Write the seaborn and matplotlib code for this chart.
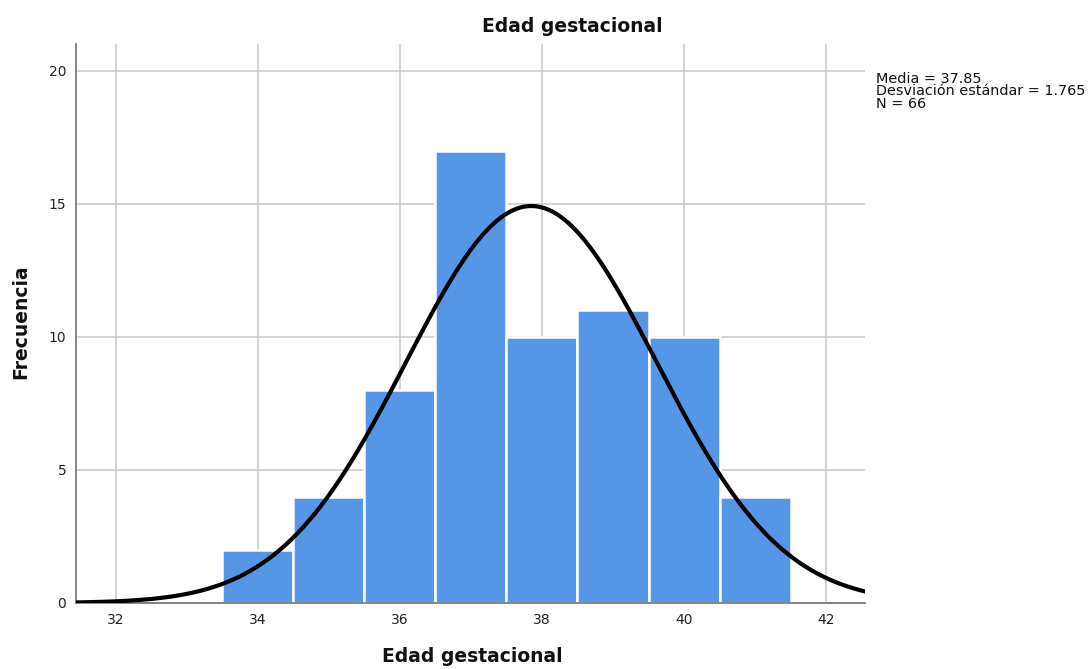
import numpy as np
import pandas as pd
import matplotlib
matplotlib.use("Agg")
import matplotlib.pyplot as plt
import seaborn as sns

# Data
semanas = [34, 35, 36, 37, 38, 39, 40, 41]
frecuencia = [2, 4, 8, 17, 10, 11, 10, 4]
media = 37.85
desv = 1.765
n_total = 66

df = pd.DataFrame({'semana': semanas, 'frec': frecuencia})

sns.set_theme(style="white")
plt.rcParams['font.family'] = ['DejaVu Sans']

fig = plt.figure(figsize=(10.91, 6.69), dpi=100)
ax = fig.add_axes([0.0697, 0.0987, 0.7233, 0.8353])

# bars one week wide, centred on each week
sns.barplot(data=df, x='semana', y='frec', native_scale=True, width=1,
            color='#5596E6', saturation=1, errorbar=None,
            edgecolor='white', linewidth=1.8, zorder=2, ax=ax)

# Normal curve scaled to counts (bin width 1)
xs = np.linspace(31.44, 42.55, 400)
ys = n_total / (desv * np.sqrt(2 * np.pi)) * np.exp(-0.5 * ((xs - media) / desv) ** 2)
ax.plot(xs, ys, color='black', linewidth=3, zorder=3)

ax.set_xlim(31.44, 42.55)
ax.set_ylim(0, 21)
ax.set_xticks([32, 34, 36, 38, 40, 42])
ax.set_xticklabels(['32', '34', '36', '38', '40', '42'])
ax.set_yticks([0, 5, 10, 15, 20])
ax.grid(True, color='#cccccc', linewidth=1.2, zorder=0)
ax.set_axisbelow(True)
for s in ['top', 'right']:
    ax.spines[s].set_visible(False)
ax.spines['left'].set_color('#777777')
ax.spines['bottom'].set_color('#777777')
ax.tick_params(axis='both', length=0, labelsize=10, colors='#222222', pad=7)
ax.set_xlabel('')
ax.set_ylabel('')

# titles placed like the SPSS output
fig.text(572 / 1091, 1 - 26 / 669, 'Edad gestacional', fontsize=13.5,
         fontweight='bold', ha='center', va='center', color='#111111')
fig.text(472 / 1091, 1 - 657 / 669, 'Edad gestacional', fontsize=13.5,
         fontweight='bold', ha='center', va='center', color='#111111')
fig.text(21 / 1091, 1 - 322 / 669, 'Frecuencia', fontsize=13.5, rotation=90,
         fontweight='bold', ha='center', va='center', color='#111111')

fig.text(0.803, 0.893, 'Media = 37.85\nDesviación estándar = 1.765\nN = 66',
         fontsize=10.4, va='top', ha='left', linespacing=0.87, color='#111111')

plt.savefig('out.png', dpi=100)
